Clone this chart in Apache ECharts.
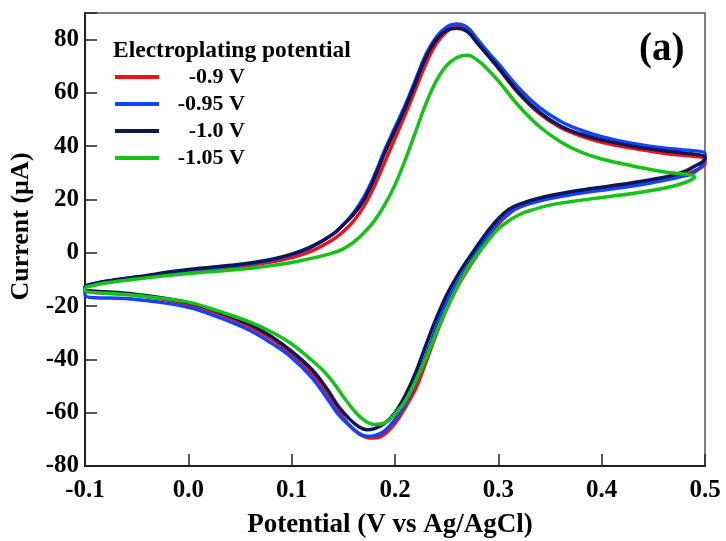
<!DOCTYPE html>
<html>
<head>
<meta charset="utf-8">
<script src="https://cdn.jsdelivr.net/npm/echarts@6/dist/echarts.min.js"></script>
<style>html,body{margin:0;padding:0;background:#fff}#c{width:726px;height:541px}</style>
</head>
<body>
<div id="c"></div>
<script>
// ---- data (potential in V vs Ag/AgCl, current in µA) ----
const seriesNames = ['-0.9 V', '-0.95 V', '-1.0 V', '-1.05 V'];
const seriesColors = ['#f21212', '#1443ff', '#0b1757', '#14c314'];

// anodic (forward) sweep
const potentialUp = [-0.1, -0.08, -0.05, 0.0, 0.05, 0.08, 0.1, 0.12, 0.14, 0.15, 0.16, 0.17, 0.18, 0.19, 0.2, 0.21, 0.22, 0.23, 0.24, 0.25, 0.26, 0.27, 0.28, 0.29, 0.3, 0.32, 0.34, 0.36, 0.38, 0.4, 0.43, 0.46, 0.5];
const potentialUpGreen = [-0.1, -0.08, -0.05, 0.0, 0.05, 0.08, 0.1, 0.12, 0.14, 0.15, 0.16, 0.17, 0.18, 0.19, 0.2, 0.21, 0.22, 0.23, 0.24, 0.25, 0.26, 0.27, 0.28, 0.29, 0.3, 0.32, 0.34, 0.36, 0.38, 0.4, 0.43, 0.46, 0.49];
const redUp   = [-12.6, -11, -9.5, -7, -5.2, -3.5, -1.8, 0.8, 5, 8, 12, 17.5, 25, 34, 43, 52, 61.5, 71, 78.5, 83, 85, 84, 79.5, 74.3, 69.3, 59.7, 52.2, 47, 43.8, 41.5, 39.2, 37.4, 35];
const blueUp  = [-12.3, -10.8, -9.2, -6.6, -4.6, -2.8, -0.8, 2.3, 7, 10.6, 15, 21, 29, 38.5, 47, 55.5, 65, 74.5, 81, 84.8, 85.9, 84.6, 80, 75.3, 71, 61.8, 54.5, 49.4, 46, 43.6, 41, 39.3, 37.2];
const navyUp  = [-12.5, -10.7, -9, -6.3, -4.3, -2.5, -0.5, 2.5, 7, 10.5, 14.5, 20, 28, 37.5, 46, 54.5, 64, 73.5, 80, 83.5, 84.3, 83, 78.5, 74, 69.5, 60, 52.7, 47.6, 44.5, 42.4, 40, 38.3, 36];
const greenUp = [-12.9, -11.3, -9.8, -7.8, -6.2, -4.8, -3.6, -2, 0, 1.5, 4, 7.5, 12, 18, 25.5, 35, 45.5, 56, 64.5, 70.3, 73.3, 74.1, 72.2, 68.7, 64.5, 55, 47.3, 41.7, 37.8, 35.2, 32.6, 30.4, 28.4];

// cathodic (reverse) sweep
const potentialDown = [0.5, 0.49, 0.475, 0.45, 0.42, 0.39, 0.37, 0.34, 0.32, 0.31, 0.3, 0.29, 0.28, 0.27, 0.26, 0.25, 0.24, 0.23, 0.22, 0.21, 0.2, 0.19, 0.18, 0.173, 0.165, 0.155, 0.145, 0.135, 0.12, 0.1, 0.08, 0.06, 0.03, 0.0, -0.05, -0.1];
const potentialDownGreen = [0.48, 0.46, 0.43, 0.4, 0.37, 0.35, 0.33, 0.32, 0.31, 0.3, 0.29, 0.28, 0.27, 0.26, 0.25, 0.24, 0.23, 0.22, 0.21, 0.2, 0.19, 0.18, 0.17, 0.16, 0.15, 0.14, 0.13, 0.12, 0.1, 0.08, 0.06, 0.03, 0.0, -0.05, -0.1];
const redDown   = [33.5, 30.8, 28.8, 26.8, 24.9, 23.3, 22.1, 19.7, 17, 14.5, 10.8, 5.5, -0.5, -6.5, -13, -21, -30.5, -41, -51, -58, -64, -68, -69.5, -69.3, -67.8, -64.3, -59, -53, -45.3, -38, -32.2, -27.8, -23, -19.3, -16, -14];
const blueDown  = [35.5, 30.3, 28.4, 26.4, 24.5, 23, 21.8, 19.5, 17.2, 14.8, 11.5, 6.5, 0.8, -5, -11.5, -18.5, -28, -38.5, -48.5, -56.5, -62.5, -66.8, -68.6, -68.8, -67.8, -64.5, -60.5, -55, -47, -39.3, -33.8, -29.2, -24.3, -20.4, -17.5, -15.8];
const navyDown  = [35.5, 32.5, 29.8, 27.6, 25.7, 24.1, 22.9, 20.6, 18.2, 16.3, 12.8, 8.3, 2.8, -2.8, -8.8, -15.8, -24.5, -34.5, -45, -53.5, -60, -64, -66, -66.4, -65.3, -62, -57.5, -51.5, -44, -37, -31.3, -27, -22.3, -18.7, -15.6, -13.5];
const greenDown = [26.3, 24.2, 22.3, 20.8, 19.2, 17.9, 15.8, 14.3, 12, 9, 4.5, -0.5, -6, -13, -21, -30, -39.5, -48, -55.5, -60.5, -63.8, -64.4, -62.8, -59, -54, -48.5, -44, -40.5, -34.2, -29.6, -26, -22, -18.5, -16, -14];

const xTicks = [-0.1, 0.0, 0.1, 0.2, 0.3, 0.4, 0.5];
const yTicks = [-80, -60, -40, -20, 0, 20, 40, 60, 80];

// ---- build loops ----
function loop(xu, yu, xd, yd) {
  const pts = [];
  for (let i = 0; i < xu.length; i++) pts.push([xu[i], yu[i]]);
  for (let i = 0; i < xd.length; i++) pts.push([xd[i], yd[i]]);
  pts.push([xu[0], yu[0]]);
  return pts;
}
const loops = [
  loop(potentialUp, redUp, potentialDown, redDown),
  loop(potentialUp, blueUp, potentialDown, blueDown),
  loop(potentialUp, navyUp, potentialDown, navyDown),
  loop(potentialUpGreen, greenUp, potentialDownGreen, greenDown)
];

const FONT = 'Liberation Serif, Times New Roman, serif';
const chart = echarts.init(document.getElementById('c'), null, {renderer: 'canvas'});
chart.setOption({
  backgroundColor: '#fff',
  animation: false,
  title: [
    {text: 'Electroplating potential', left: 113, top: 39, padding: 0,
     textStyle: {fontFamily: FONT, fontWeight: 'bold', fontSize: 23.5, color: '#000'}},
    {text: '(a)', left: 639, top: 30, padding: 0,
     textStyle: {fontFamily: FONT, fontWeight: 'bold', fontSize: 39, color: '#000'}}
  ],
  legend: {
    orient: 'vertical', left: 115, top: 65, padding: 0,
    itemWidth: 44, itemHeight: 4, itemGap: 3, icon: 'rect',
    data: seriesNames,
    formatter: n => '{a|' + n + '}',
    textStyle: {fontFamily: FONT, fontWeight: 'bold', fontSize: 22, color: '#000', lineHeight: 24,
      rich: {a: {width: 81, align: 'right', fontFamily: FONT, fontWeight: 'bold', fontSize: 22, color: '#000', lineHeight: 24}}}
  },
  grid: {left: 85, right: 21, top: 13, bottom: 75, show: true, borderColor: '#555', borderWidth: 1.5,
         containLabel: false, outerBoundsMode: 'none'},
  xAxis: {
    type: 'value', min: -0.1, max: 0.5, interval: 0.1,
    name: 'Potential (V vs Ag/AgCl)', nameLocation: 'middle', nameGap: 46,
    nameTextStyle: {fontFamily: FONT, fontWeight: 'bold', fontSize: 27, color: '#000', padding: [0, 10, 0, 0]},
    axisLine: {show: true, onZero: false, lineStyle: {color: '#222', width: 2}},
    axisTick: {show: true, inside: true, length: 12, lineStyle: {color: '#222', width: 1.5}},
    axisLabel: {margin: 12, fontFamily: FONT, fontWeight: 'bold', fontSize: 25, color: '#000',
      formatter: v => (Math.abs(v) < 1e-9 ? '0.0' : v.toFixed(1))},
    splitLine: {show: false}
  },
  yAxis: {
    type: 'value', min: -80, max: 90, interval: 20,
    name: 'Current (µA)', nameLocation: 'middle', nameGap: 48, nameRotate: 90,
    nameTextStyle: {fontFamily: FONT, fontWeight: 'bold', fontSize: 26, color: '#000', padding: [0, 0, 0, 26]},
    axisLine: {show: true, onZero: false, lineStyle: {color: '#222', width: 2}},
    axisTick: {show: true, inside: true, length: 12, lineStyle: {color: '#222', width: 1.5}},
    axisLabel: {margin: 6, fontFamily: FONT, fontWeight: 'bold', fontSize: 25, color: '#000',
      formatter: v => (yTicks.indexOf(v) >= 0 ? String(v) : '')},
    splitLine: {show: false}
  },
  series: loops.map((d, i) => ({
    name: seriesNames[i], type: 'line', data: d, smooth: 0.4,
    showSymbol: false, symbol: 'none',
    lineStyle: {color: seriesColors[i], width: 3.5},
    itemStyle: {color: seriesColors[i]}
  }))
});
</script>
</body>
</html>
